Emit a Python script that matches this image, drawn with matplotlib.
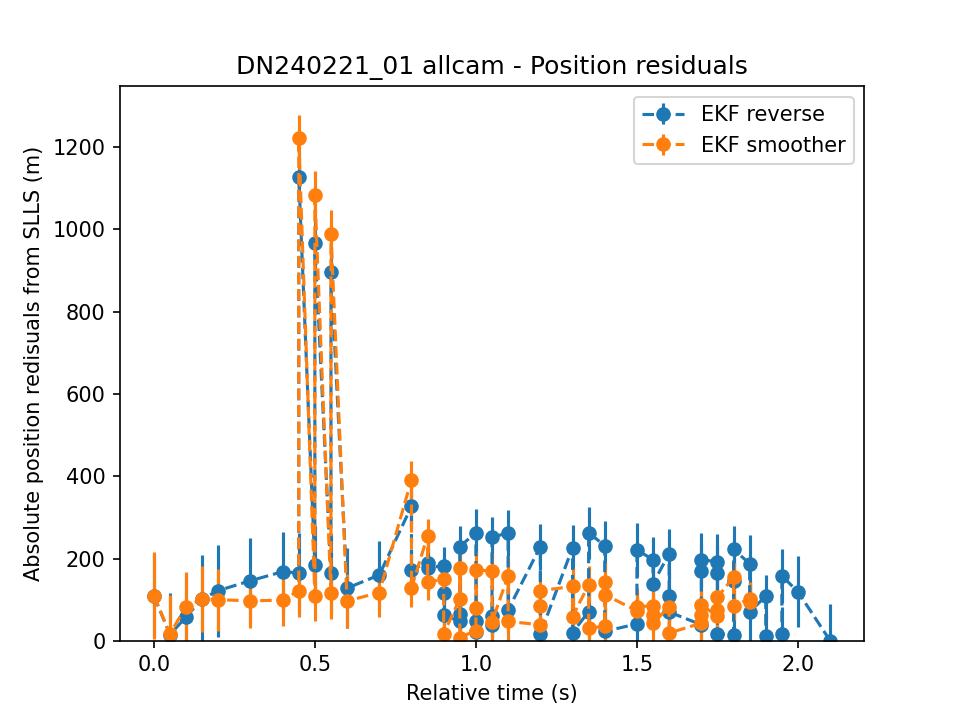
import matplotlib
matplotlib.use("Agg")
import matplotlib.pyplot as plt

# EKF reverse residuals (time, value, 1-sigma) in plotted order
rev_t = [0.00, 0.05, 0.10, 0.15, 0.20, 0.30, 0.40,
         0.45, 0.45, 0.50, 0.50, 0.55, 0.55, 0.60, 0.70,
         0.80, 0.80, 0.85, 0.85, 0.90, 0.90, 0.90,
         0.95, 0.95, 0.95, 1.00, 1.00, 1.00, 1.05, 1.05, 1.05,
         1.10, 1.10, 1.20, 1.20, 1.30, 1.30, 1.35, 1.35, 1.40, 1.40,
         1.50, 1.50, 1.55, 1.55, 1.60, 1.60, 1.60,
         1.70, 1.70, 1.70, 1.75, 1.75, 1.75, 1.80, 1.80, 1.80,
         1.85, 1.85, 1.90, 1.90, 1.95, 1.95, 2.00, 2.10]
rev_v = [110, 15, 58, 102, 122, 146, 168,
         165, 1128, 185, 967, 165, 897, 128, 160,
         327, 173, 190, 178, 182, 115, 62,
         48, 65, 229, 263, 47, 22, 39, 60, 252,
         262, 75, 229, 17, 226, 20, 71, 263, 231, 23,
         41, 221, 197, 139, 212, 108, 70,
         39, 169, 197, 192, 166, 17, 15, 145, 223,
         187, 71, 108, 12, 17, 158, 119, 0]
rev_err = [100, 100, 100, 107, 112, 104, 97,
           97, 60, 95, 60, 95, 60, 97, 83,
           50, 50, 48, 48, 46, 46, 46,
           49, 49, 49, 57, 57, 57, 50, 50, 50,
           55, 55, 56, 56, 55, 55, 63, 63, 60, 60,
           65, 65, 55, 55, 60, 60, 60,
           66, 66, 66, 68, 68, 68, 57, 57, 57,
           71, 71, 52, 52, 65, 65, 86, 90]

# EKF smoother residuals
smo_t = [0.00, 0.05, 0.10, 0.15, 0.20, 0.30, 0.40,
         0.45, 0.45, 0.50, 0.50, 0.55, 0.55, 0.60, 0.70,
         0.80, 0.80, 0.85, 0.85, 0.90, 0.90,
         0.95, 0.95, 0.95, 1.00, 1.00, 1.00, 1.05, 1.05,
         1.10, 1.10, 1.20, 1.20, 1.20, 1.30, 1.30, 1.35, 1.35,
         1.40, 1.40, 1.40, 1.50, 1.50, 1.55, 1.55, 1.55, 1.60, 1.60,
         1.70, 1.70, 1.70, 1.75, 1.75, 1.75, 1.80, 1.80, 1.85, 1.85]
smo_v = [110, 17, 83, 102, 100, 97, 99,
         122, 1221, 110, 1083, 117, 988, 97, 117,
         392, 129, 255, 142, 150, 17,
         102, 178, 8, 25, 80, 173, 169, 46,
         158, 47, 39, 85, 122, 132, 59, 136, 31,
         35, 144, 112, 73, 83, 85, 63, 44, 82, 19,
         43, 63, 87, 60, 75, 106, 155, 85, 102, 95]
smo_err = [105, 95, 85, 80, 75, 65, 63,
           63, 58, 63, 58, 63, 60, 65, 60,
           45, 48, 42, 42, 45, 45,
           45, 45, 45, 45, 45, 45, 45, 45,
           45, 45, 45, 45, 45, 45, 45, 45, 45,
           45, 45, 45, 45, 45, 45, 45, 45, 45, 45,
           40, 40, 40, 40, 40, 40, 35, 35, 40, 40]

fig = plt.figure(figsize=(6.4, 4.8), dpi=150)
plt.errorbar(rev_t, rev_v, yerr=rev_err, fmt='o--', label='EKF reverse')
plt.errorbar(smo_t, smo_v, yerr=smo_err, fmt='o--', label='EKF smoother')
plt.ylim(bottom=0)
plt.title('DN240221_01 allcam - Position residuals')
plt.xlabel('Relative time (s)')
plt.ylabel('Absolute position redisuals from SLLS (m)')
plt.legend(loc='upper right')
plt.savefig('out.png', dpi=150)
